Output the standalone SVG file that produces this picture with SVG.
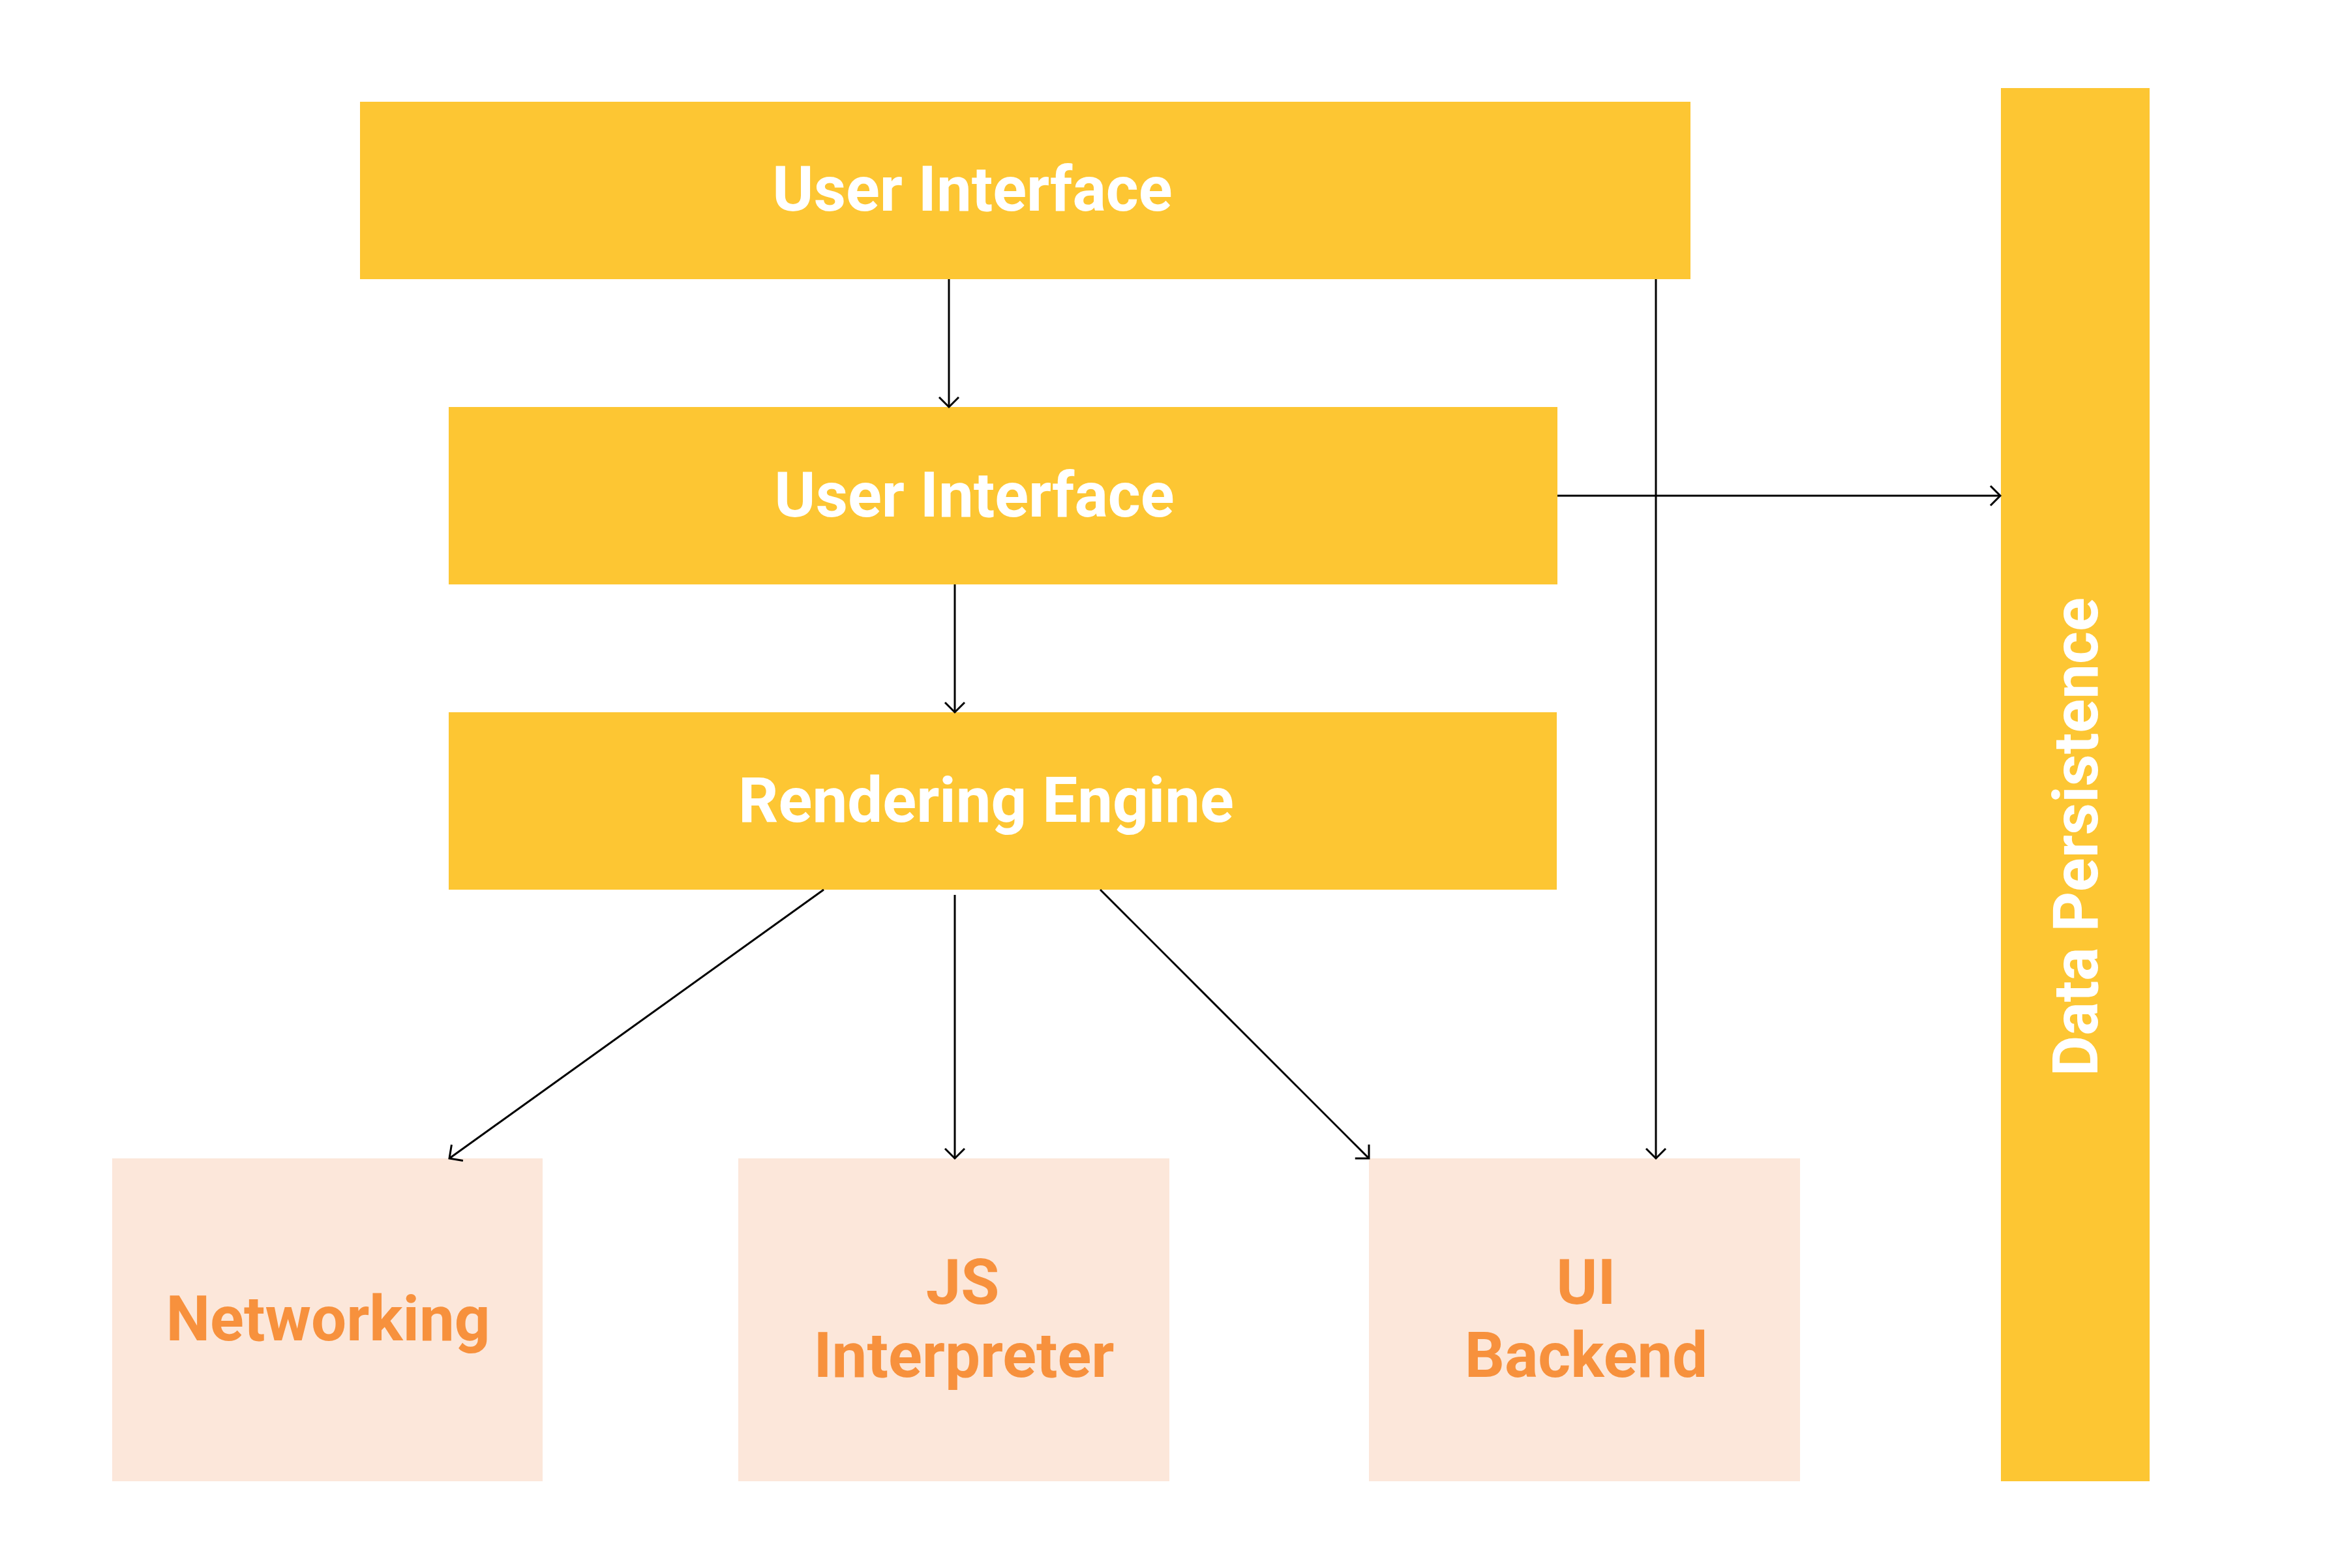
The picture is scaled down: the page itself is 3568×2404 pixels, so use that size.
<svg xmlns="http://www.w3.org/2000/svg" width="3568" height="2404" viewBox="0 0 3568 2404">
<style>
.y{fill:#FDC633}
.p{fill:#FCE7DA}
.tw{font-family:Roboto,"Liberation Sans",sans-serif;font-weight:bold;font-size:96px;fill:#FFFFFF;text-anchor:middle}
.to{font-family:Roboto,"Liberation Sans",sans-serif;font-weight:bold;font-size:96px;fill:#F7913D;text-anchor:middle}
.c{stroke:#000;stroke-width:3;fill:none;marker-end:url(#ah)}
</style>
<defs>
<marker id="ah" markerUnits="userSpaceOnUse" markerWidth="40" markerHeight="40" refX="0" refY="0" viewBox="-20 -20 40 40" orient="auto">
<path d="M-15,-15 L0,0 L-15,15" fill="none" stroke="#000" stroke-width="3"/>
</marker>
</defs>
<rect width="3568" height="2404" fill="#FFFFFF"/>
<g id="ui1"><rect class="y" x="552" y="156" width="2040" height="272"/><text class="tw" x="1491" y="323">User Interface</text></g>
<g id="ui2"><rect class="y" x="688" y="624" width="1700" height="272"/><text class="tw" x="1494" y="792">User Interface</text></g>
<g id="rendering"><rect class="y" x="688" y="1092" width="1699" height="272"/><text class="tw" x="1512" y="1260">Rendering Engine</text></g>
<g id="networking"><rect class="p" x="172" y="1776" width="660" height="495"/><text class="to" x="503" y="2055">Networking</text></g>
<g id="js"><rect class="p" x="1132" y="1776" width="661" height="495"/><text class="to" x="1476" y="1999">JS</text><text class="to" x="1478" y="2111">Interpreter</text></g>
<g id="uibackend"><rect class="p" x="2099" y="1776" width="661" height="495"/><text class="to" x="2432" y="1999">UI</text><text class="to" x="2432" y="2111">Backend</text></g>
<g id="persistence"><rect class="y" x="3068" y="135" width="228" height="2136"/><text class="tw" transform="translate(3216,1283) rotate(-90)" x="0" y="0">Data Persistence</text></g>
<g id="connectors">
<path class="c" d="M1455,428 L1455,624"/>
<path class="c" d="M1464,896 L1464,1092"/>
<path class="c" d="M2388,760 L3067,760"/>
<path class="c" d="M2539,428 L2539,1776"/>
<path class="c" d="M1263,1364 L689,1776"/>
<path class="c" d="M1464,1372 L1464,1776"/>
<path class="c" d="M1687,1364 L2099,1776"/>
</g>
</svg>
